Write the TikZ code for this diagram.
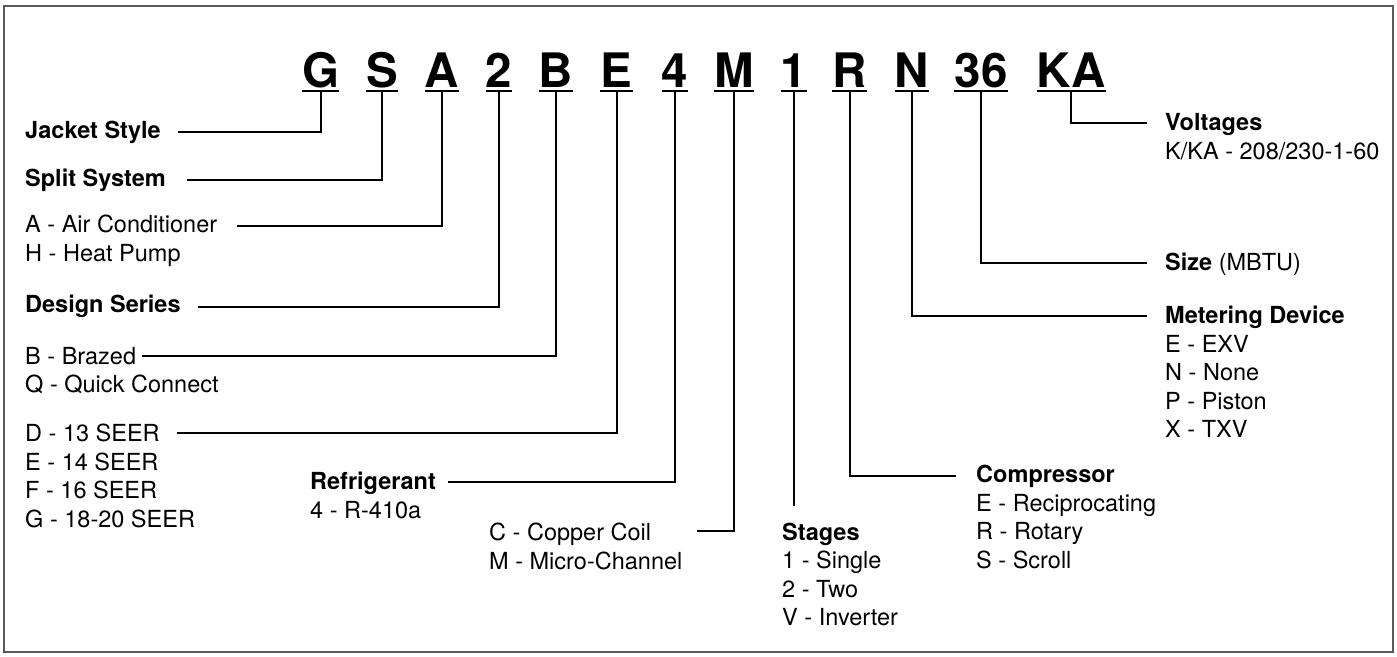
\documentclass[tikz,border=0pt]{standalone}
\usepackage{fontspec}
\setmainfont{TeX Gyre Heros}
\begin{document}
\begin{tikzpicture}[x=1pt,y=-1pt,
  code/.style={font=\fontsize{47.5}{50}\selectfont\bfseries, inner sep=0pt, inner ysep=4pt, text depth=0pt, anchor=base},
  uline/.style={line width=2.5pt},
  conn/.style={line width=2pt},
  lab/.style={font=\fontsize{23.5}{28.5}\selectfont, inner sep=0pt, anchor=base west},
  labb/.style={lab, font=\fontsize{23.5}{28.5}\selectfont\bfseries},
  frame/.style={draw=black!65, line width=1.5pt}]
\useasboundingbox (0,0) rectangle (1397,656);
\draw[frame] (4,6) rectangle (1393,652);

% code letters
\node[code] (lG)  at (320.5,87) {G};
\node[code] (lS)  at (382,87) {S};
\node[code] (lA)  at (442,87) {A};
\node[code] (l2)  at (499,87) {2};
\node[code] (lB)  at (556,87) {B};
\node[code] (lE)  at (616.5,87) {E};
\node[code] (l4)  at (675,87) {4};
\node[code] (lM)  at (734,87) {M};
\node[code] (l1)  at (794,87) {1};
\node[code] (lR)  at (849.5,87) {R};
\node[code] (lN)  at (912,87) {N};
\node[code] (l36) at (981,87) {36};
\node[code] (lKA) at (1071,87) {KA};
\foreach \n in {lG,lS,lA,l2,lB,lE,l4,lM,l1,lR,lN,l36,lKA}
  \draw[uline] (\n.south west) -- (\n.south east);

% left labels
\node[labb] (tJS) at (25,138.3) {Jacket Style};
\node[labb] (tSS) at (25,186.7) {Split System};
\node[lab]  (tA1) at (25,232.7) {A - Air Conditioner};
\node[lab]  (tA2) at (25,261.7) {H - Heat Pump};
\node[labb] (tDS) at (25,312.7) {Design Series};
\node[lab]  (tB1) at (25,364.3) {B - Brazed};
\node[lab]  (tB2) at (25,392.7) {Q - Quick Connect};
\node[lab]  (tD1) at (25,441.7) {D - 13 SEER};
\node[lab]  (tD2) at (25,470.2) {E - 14 SEER};
\node[lab]  (tD3) at (25,498.7) {F - 16 SEER};
\node[lab]  (tD4) at (25,527.2) {G - 18-20 SEER};
\node[labb] (tRf) at (310,489.3) {Refrigerant};
\node[lab]  (tR1) at (310,518) {4 - R-410a};
\node[lab]  (tC1) at (489,540.7) {C - Copper Coil};
\node[lab]  (tC2) at (489,569.3) {M - Micro-Channel};
\node[labb] (tSt) at (782,540) {Stages};
\node[lab]  (tS1) at (782,568.5) {1 - Single};
\node[lab]  (tS2) at (782,597) {2 - Two};
\node[lab]  (tS3) at (782,625.5) {V - Inverter};
\node[labb] (tCo) at (976,482.3) {Compressor};
\node[lab]  (tC3) at (976,511) {E - Reciprocating};
\node[lab]  (tC4) at (976,539.5) {R - Rotary};
\node[lab]  (tC5) at (976,568) {S - Scroll};
\node[labb] (tMD) at (1165,323.3) {Metering Device};
\node[lab]  (tM1) at (1165,352) {E - EXV};
\node[lab]  (tM2) at (1165,380.5) {N - None};
\node[lab]  (tM3) at (1165,409) {P - Piston};
\node[lab]  (tM4) at (1165,437.5) {X - TXV};
\node[lab]  (tSz) at (1165,270) {\textbf{Size} (MBTU)};
\node[labb] (tVo) at (1165,130.7) {Voltages};
\node[lab]  (tV1) at (1165,159.5) {K/KA - 208/230-1-60};

% connector free ends
\coordinate (cJS) at (178,131.7);
\coordinate (cSS) at (186.7,180);
\coordinate (cA)  at (237,226);
\coordinate (cDS) at (198,306.7);
\coordinate (cB)  at (141.7,356);
\coordinate (cD)  at (176.7,432.5);
\coordinate (cRf) at (448.3,482.3);
\coordinate (cC)  at (696.7,530.7);
\coordinate (cSt) at (794,506);
\coordinate (cCo) at (956,476);
\coordinate (cMD) at (1146.7,315.5);
\coordinate (cSz) at (1146.7,262.7);
\coordinate (cVo) at (1146.7,123.3);

\draw[conn] (cJS) -| (lG.south);
\draw[conn] (cSS) -| (lS.south);
\draw[conn] (cA)  -| (lA.south);
\draw[conn] (cDS) -| (l2.south);
\draw[conn] (cB)  -| (lB.south);
\draw[conn] (cD)  -| (lE.south);
\draw[conn] (cRf) -| (l4.south);
\draw[conn] (cC)  -| (lM.south);
\draw[conn] (l1.south) -- (cSt);
\draw[conn] (lR.south) |- (cCo);
\draw[conn] (lN.south) |- (cMD);
\draw[conn] (l36.south) |- (cSz);
\draw[conn] (lKA.south) |- (cVo);
\end{tikzpicture}
\end{document}
